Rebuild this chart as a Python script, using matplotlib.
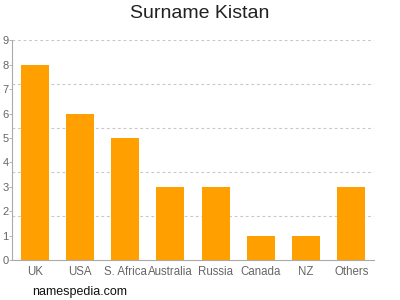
import matplotlib.pyplot as plt
import numpy as np

plt.rcParams['font.family'] = ['Liberation Sans', 'DejaVu Sans']

# Daten der Grafik
countries = ['UK', 'USA', 'S. Africa', 'Australia', 'Russia', 'Canada', 'NZ', 'Others']
counts = [8, 6, 5, 3, 3, 1, 1, 3]
y_ticks = list(range(0, 10))
grid_levels = [1.8, 3.6, 5.4, 7.2, 9]

fig = plt.figure(figsize=(4, 3), dpi=100)
ax = fig.add_axes([0.03, 0.133, 0.905, 0.733])

x = np.arange(len(countries))
ax.bar(x, counts, width=0.62, color='#ffa000', zorder=2)

ax.set_xlim(-0.5, len(countries) - 0.5)
ax.set_ylim(0, 9)

# Linhas de grade tracejadas
for g in grid_levels:
    ax.axhline(g, color='#c8c8c8', linestyle=(0, (2.5, 2.5)), linewidth=0.8, zorder=1)

ax.set_xticks(x)
ax.set_xticklabels(countries, fontsize=8.3, color='#666666')
ax.set_yticks(y_ticks)
ax.set_yticklabels([str(v) for v in y_ticks], fontsize=8, color='#666666')
ax.tick_params(axis='x', length=0, pad=4)
ax.tick_params(axis='y', length=2, width=0.6, color='#aaaaaa', pad=0.5, direction='out')

for side in ['top', 'right']:
    ax.spines[side].set_visible(False)
for side in ['left', 'bottom']:
    ax.spines[side].set_color('#aaaaaa')
    ax.spines[side].set_linewidth(0.8)

fig.text(0.5, 0.955, 'Surname Kistan', ha='center', va='center', fontsize=14, color='#222222')
fig.text(0.08, 0.027, 'namespedia.com', ha='left', va='center', fontsize=9, color='#111111')

plt.savefig('out.png', dpi=100)
